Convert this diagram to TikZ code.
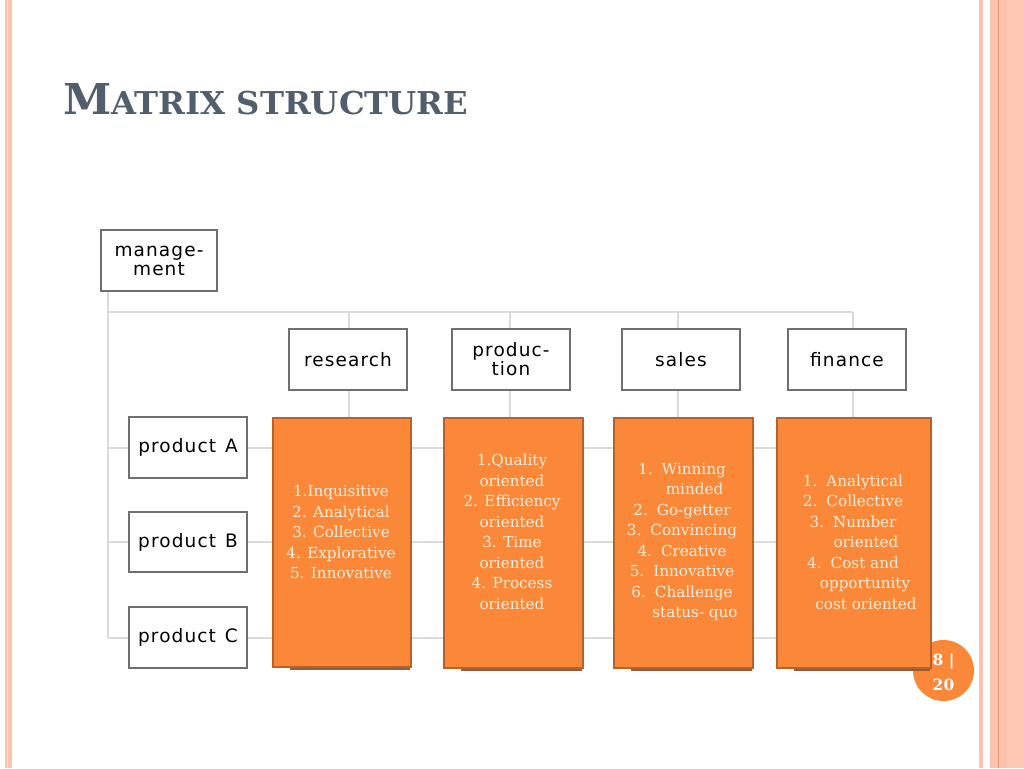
\documentclass[tikz,border=0pt]{standalone}
\usepackage{fontspec}
\usepackage{graphicx}
\usetikzlibrary{calc}
\newfontfamily\orgfont[LetterSpace=6]{DejaVu Sans}
\newfontfamily\bodyfont{DejaVu Serif}
\definecolor{pinkA}{HTML}{FDC3AE}
\definecolor{pinkB}{HTML}{FEC9B4}
\definecolor{pinkPale}{HTML}{FDEDE4}
\definecolor{pinkLine}{HTML}{E0977A}
\definecolor{titlec}{HTML}{535E6C}
\definecolor{orggray}{HTML}{707070}
\definecolor{conngray}{HTML}{DADADA}
\definecolor{ofill}{HTML}{FB8739}
\definecolor{oborder}{HTML}{B5622D}
\definecolor{otextc}{HTML}{FDEEDC}
\definecolor{shadowc}{HTML}{8E5E40}
\pgfdeclarelayer{background}
\pgfsetlayers{background,main}
\begin{document}
\begin{tikzpicture}[x=1pt,y=-1pt,
  orgbox/.style={draw=orggray, line width=2.4pt, fill=white, inner sep=0pt,
    font=\orgfont\fontsize{18.5}{19}\selectfont, text=black, align=center},
  obox/.style={draw=oborder, line width=1.6pt, fill=ofill, anchor=north west, inner sep=0pt},
  otext/.style={font=\bodyfont\fontsize{15.2}{20.5}\selectfont, text=otextc, align=center, inner sep=0pt},
  conn/.style={draw=conngray, line width=2pt}]
\useasboundingbox (0,0) rectangle (1024,768);
% page borders
\fill[pinkA] (5,0) rectangle (6.5,768);
\fill[pinkPale] (6.5,0) rectangle (8,768);
\fill[pinkA] (8,0) rectangle (12,768);
\fill[pinkA] (979,0) rectangle (983,768);
\fill[pinkA] (990,0) rectangle (1007,768);
\fill[pinkB] (1007,0) rectangle (1024,768);
\fill[pinkLine] (998,0) rectangle (999.3,768);
% title
\node[anchor=base west, inner sep=0pt, text=titlec] (title) at (63,114)
  {\resizebox{405pt}{31pt}{\bodyfont\bfseries\fontsize{10}{12}\selectfont M\fontsize{7.4}{8}\selectfont ATRIX STRUCTURE}};
% coordinates of the grid
\coordinate (busL) at (108,312);
\coordinate (colR) at (349,312);
\coordinate (colP) at (510,312);
\coordinate (colS) at (678,312);
\coordinate (colF) at (853,312);
% org boxes
\node[orgbox, minimum width=116, minimum height=61] (mgmt) at (159,260.5) {manage-\\ment};
\node[orgbox, minimum width=118, minimum height=61] (res) at (348,359.5) {research};
\node[orgbox, minimum width=118, minimum height=61] (pro) at (511,359.5) {produc-\\tion};
\node[orgbox, minimum width=118, minimum height=61] (sal) at (681,359.5) {sales};
\node[orgbox, minimum width=118, minimum height=61] (fin) at (847,359.5) {finance};
\node[orgbox, minimum width=118, minimum height=61] (pA) at (188,447.5) {product\hspace{9pt}A};
\node[orgbox, minimum width=118, minimum height=60] (pB) at (188,542) {product\hspace{9pt}B};
\node[orgbox, minimum width=118, minimum height=61] (pC) at (188,637.5) {product\hspace{9pt}C};
% connectors (behind boxes)
\begin{pgfonlayer}{background}
\path[conn] (mgmt.south -| busL) -- (busL |- pC);
\path[conn] (busL) -- (colF);
\foreach \c in {colR,colP,colS,colF} {\path[conn] (\c) -- (\c |- pC);}
\foreach \r in {pA,pB,pC} {\path[conn] (busL |- \r) -- (\r.west); \path[conn] (\r.east) -- (colF |- \r);}
\end{pgfonlayer}
% page number circle
\node[circle, fill=ofill, minimum size=61, inner sep=0pt] (pg) at (943.5,670.5) {};
% orange boxes with shadows
\fill[shadowc] (290,420) rectangle (410,669.5);
\node[obox, minimum width=138, minimum height=249] (ores) at (272,417) {};
\fill[shadowc] (461,420) rectangle (582,670.5);
\node[obox, minimum width=139, minimum height=250] (opro) at (443,417) {};
\fill[shadowc] (631,420) rectangle (752,670.5);
\node[obox, minimum width=139, minimum height=250] (osal) at (613,417) {};
\fill[shadowc] (794,420) rectangle (930,670.5);
\node[obox, minimum width=154, minimum height=250] (ofin) at (776,417) {};
% texts
\node[otext] (tres) at (341,532) {1.Inquisitive\\2. Analytical\\3. Collective\\4. Explorative\\5. Innovative};
\node[otext] (tpro) at (512,532) {1.Quality\\oriented\\2. Efficiency\\oriented\\3. Time\\oriented\\4. Process\\oriented};
\node[otext] (tsal) at (682,542) {1.\hspace{9pt}Winning\\\hspace*{25pt}minded\\2.\hspace{9pt}Go-getter\\3.\hspace{9pt}Convincing\\4.\hspace{9pt}Creative\\5.\hspace{9pt}Innovative\\6.\hspace{9pt}Challenge\\\hspace*{26pt}status- quo};
\node[otext] (tfin) at (853,542) {1.\hspace{9pt}Analytical\\2.\hspace{9pt}Collective\\3.\hspace{9pt}Number\\\hspace*{26pt}oriented\\4.\hspace{9pt}Cost and\\\hspace*{24pt}opportunity\\\hspace*{26pt}cost oriented};
\node[font=\bodyfont\bfseries\fontsize{15.5}{24.5}\selectfont, text=white, align=center, inner sep=0pt] (pgt) at (943.5,672) {8 |\\20};
\end{tikzpicture}
\end{document}
